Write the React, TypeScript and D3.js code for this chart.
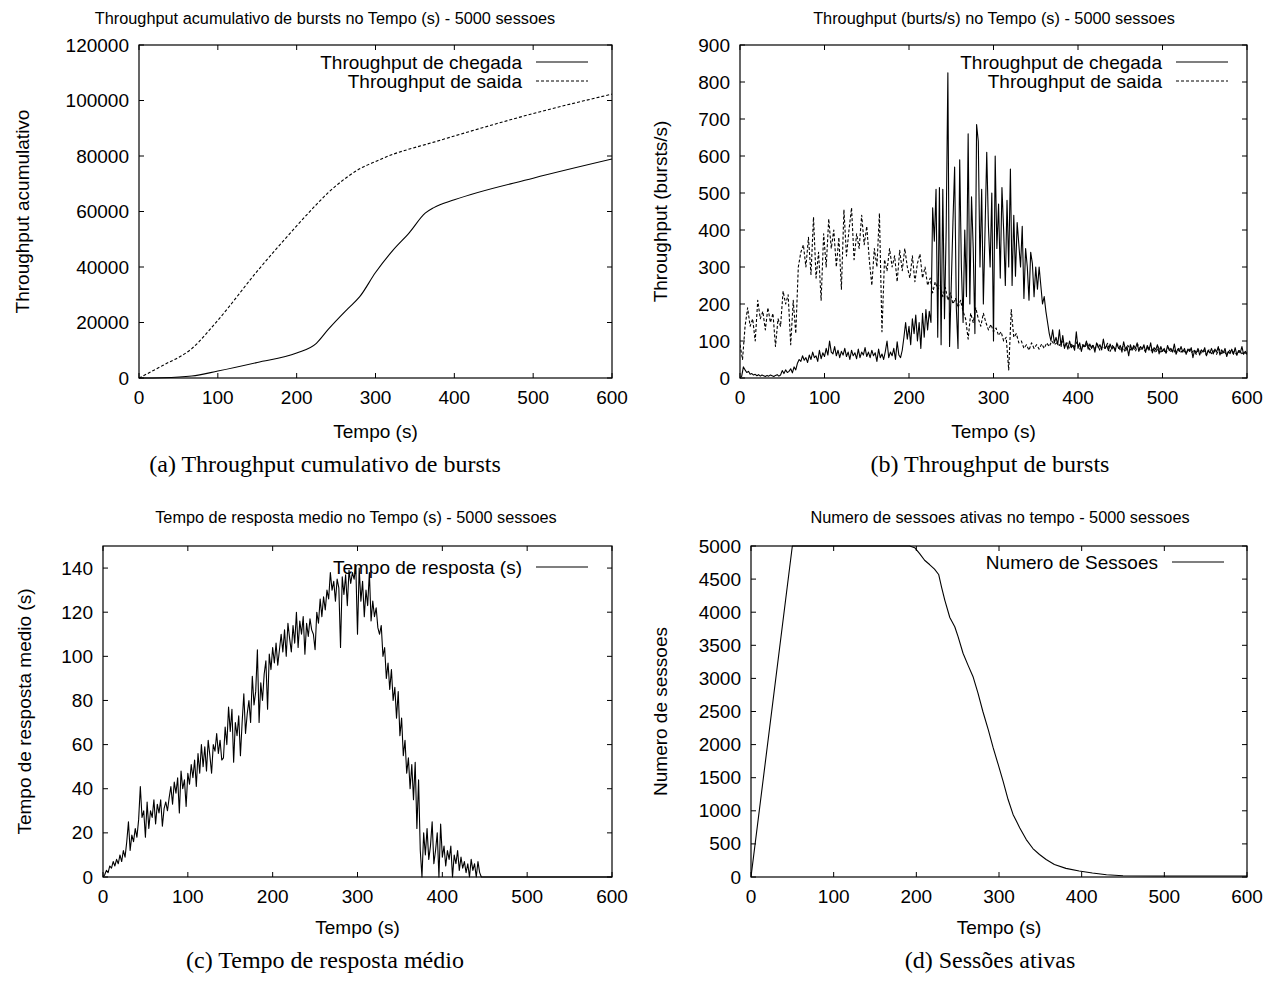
import React from "react";
import * as d3 from "d3";

// ---------- tick labels ----------
const X_TICKS = [0, 100, 200, 300, 400, 500, 600];
const CUM_Y_TICKS = [0, 20000, 40000, 60000, 80000, 100000, 120000];
const THR_Y_TICKS = [0, 100, 200, 300, 400, 500, 600, 700, 800, 900];
const RESP_Y_TICKS = [0, 20, 40, 60, 80, 100, 120, 140];
const SESS_Y_TICKS = [0, 500, 1000, 1500, 2000, 2500, 3000, 3500, 4000, 4500, 5000];

// ---------- (a) cumulative throughput ----------
const cumTimes = [0, 30, 67, 100, 150, 200, 225, 240, 265, 280, 300, 322, 343, 363, 374, 400, 500, 600];
const cumChegada = [0, 100, 700, 2500, 5600, 9000, 12500, 17500, 25000, 29300, 38000, 46000, 52400, 59400, 61400, 64200, 72000, 78900];
const cumSaida = [0, 4500, 10600, 20800, 38500, 54800, 62500, 66800, 72600, 75400, 78000, 80600, 82500, 84100, 85000, 87200, 95300, 102300];

// ---------- (b) throughput (bursts/s) ----------
const thrChegadaStep = 2;
const thrChegada = [
  0, 5, 30, 22, 15, 18, 10, 12, 8, 10, 6, 9, 5, 8, 6, 4, 7, 5, 8, 6,
  4, 7, 9, 5, 8, 20, 12, 22, 15, 18, 25, 14, 30, 22, 40, 50, 45, 60, 48, 55,
  42, 62, 50, 70, 55, 60, 45, 75, 52, 68, 58, 80, 62, 100, 70, 65, 85, 60, 75, 55,
  72, 62, 80, 58, 70, 50, 75, 60, 68, 52, 78, 55, 70, 62, 82, 58, 70, 55, 75, 60,
  68, 45, 78, 55, 65, 50, 72, 100, 55, 70, 60, 80, 50, 98, 62, 55, 75, 110, 150, 105,
  140, 90, 160, 120, 170, 100, 150, 80, 175, 110, 185, 130, 180, 150, 460, 370, 510, 110, 515, 90,
  510, 160, 400, 825, 85, 250, 420, 570, 190, 80, 590, 300, 150, 400, 220, 660, 200, 490, 350, 120,
  685, 640, 300, 510, 200, 400, 610, 410, 300, 500, 100, 600, 350, 470, 270, 515, 400, 250, 480, 300,
  565, 250, 440, 275, 420, 360, 300, 410, 215, 350, 300, 210, 340, 310, 220, 300, 240, 300, 250, 200,
  220, 180, 150, 120, 100, 130, 95, 110, 90, 130, 85, 115, 80, 95, 78, 100, 82, 88, 75, 125,
  80, 95, 72, 90, 85, 100, 78, 92, 80, 88, 70, 95, 82, 90, 76, 105, 80, 88, 74, 92,
  78, 85, 72, 95, 80, 88, 70, 98, 78, 85, 60, 90, 75, 88, 80, 95, 72, 85, 78, 90,
  70, 88, 75, 95, 68, 82, 76, 90, 65, 85, 72, 80, 68, 88, 74, 80, 70, 92, 66, 78,
  72, 85, 70, 80, 64, 78, 72, 82, 55, 75, 68, 80, 62, 76, 70, 82, 60, 75, 68, 80,
  65, 78, 70, 85, 62, 76, 68, 80, 58, 72, 66, 78, 64, 82, 62, 74, 68, 85, 64, 72,
  66,
];
const thrSaidaStep = 3;
const thrSaida = [
  90, 50, 140, 190, 140, 160, 100, 210, 160, 180, 130, 190, 150, 175, 85, 160, 140, 235, 200, 225,
  90, 210, 120, 300, 340, 360, 300, 380, 280, 435, 270, 340, 210, 390, 300, 430, 350, 400, 300, 380,
  240, 455, 330, 400, 460, 320, 390, 350, 440, 360, 410, 320, 250, 350, 300, 445, 125, 320, 290, 350,
  300, 330, 260, 345, 290, 350, 300, 270, 330, 260, 310, 335, 270, 300, 250, 270, 230, 260, 240, 250,
  220, 245, 210, 230, 200, 215, 190, 210, 180, 160, 105, 175, 150, 190, 160, 140, 175, 150, 130, 145,
  125, 135, 115, 125, 100, 110, 22, 185, 110, 120, 95, 100, 80, 90, 75, 95, 80, 90, 78, 92,
  80, 95, 85, 100, 90, 95, 88, 100, 85, 95, 80, 92, 85, 98, 78, 90, 82, 95, 76, 88,
  80, 92, 74, 86, 80, 94, 72, 88, 78, 90, 75, 85, 70, 88, 76, 84, 72, 90, 74, 82,
  70, 86, 72, 80, 68, 84, 70, 78, 66, 82, 72, 78, 64, 80, 70, 76, 66, 80, 68, 74,
  64, 78, 68, 75, 62, 76, 66, 74, 64, 78, 66, 72, 62, 76, 66, 72, 62, 74, 66, 70,
  64,
];

// ---------- (c) mean response time ----------
const respStep = 2;
const respTempo = [
  0, 1, 3, 2, 5, 4, 7, 5, 8, 6, 10, 7, 12, 9, 16, 25, 12, 19, 16, 22,
  18, 26, 41, 27, 30, 18, 34, 22, 30, 27, 35, 24, 33, 29, 35, 23, 31, 34, 30, 36,
  41, 33, 43, 38, 45, 29, 48, 40, 44, 32, 47, 42, 51, 45, 53, 41, 56, 47, 60, 50,
  59, 48, 62, 55, 47, 60, 57, 65, 56, 62, 53, 54, 68, 60, 77, 66, 76, 52, 70, 64,
  73, 55, 70, 83, 65, 74, 80, 70, 91, 78, 84, 103, 70, 88, 80, 92, 98, 76, 101, 94,
  104, 97, 106, 96, 103, 110, 102, 112, 100, 115, 108, 102, 114, 106, 120, 104, 116, 110, 118, 101,
  115, 109, 117, 112, 110, 103, 120, 115, 126, 118, 127, 121, 130, 126, 138, 130, 134, 125, 135, 131,
  104, 136, 128, 137, 123, 139, 133, 138, 135, 141, 110, 140, 125, 134, 118, 130, 123, 138, 116, 125,
  118, 122, 113, 110, 114, 100, 104, 90, 97, 85, 94, 80, 86, 72, 84, 64, 72, 55, 62, 47,
  54, 40, 51, 35, 52, 22, 44, 12, 0, 20, 10, 22, 8, 14, 25, 6, 12, 20, 0, 24,
  9, 14, 5, 12, 8, 14, 0, 10, 6, 12, 3, 9, 4, 7, 2, 6, 0, 8, 3, 6,
  0, 7, 2, 0,
];
const respTailTimes = [448, 600];
const respTailValues = [0, 0];

// ---------- (d) active sessions ----------
const sessTimes = [0, 50, 192, 198, 204, 210, 216, 222, 227, 230.5, 234.5, 240.5, 246.5, 250.5, 256.5, 262.5, 268.5, 274.5, 280.5, 287, 293, 299, 305, 311, 317, 325, 333, 341, 349, 357, 367, 381, 397, 413, 430, 450, 490, 600];
const sessValues = [0, 5000, 5000, 4975, 4885, 4785, 4720, 4650, 4570, 4380, 4180, 3920, 3780, 3630, 3380, 3200, 3030, 2780, 2500, 2225, 1950, 1700, 1445, 1170, 945, 745, 565, 430, 340, 265, 190, 130, 90, 60, 35, 20, 15, 15];

const SANS = "'Liberation Sans', Arial, Helvetica, sans-serif";
const SERIF = "'Liberation Serif', 'DejaVu Serif', serif";
const FS = 19;

type Pt = [number, number];
type Series = { pts: Pt[]; dash?: string; curve?: d3.CurveFactory };
type LegendItem = { label: string; dash?: string };

interface PanelProps {
  id: string;
  left: number; right: number; top: number; bottom: number;
  yDomain: [number, number];
  yTicks: number[];
  series: Series[];
  legend: LegendItem[];
  legendTextX: number; legendY: number;
  title: string; titleX: number; titleY: number;
  yLabel: string; yLabelX: number;
  xLabelY: number;
  caption: string; captionX: number; captionY: number;
}

function Panel(p: PanelProps) {
  const x = d3.scaleLinear().domain([0, 600]).range([p.left, p.right]);
  const y = d3.scaleLinear().domain(p.yDomain).range([p.bottom, p.top]);
  const tl = 5;
  const midX = (p.left + p.right) / 2;
  const midY = (p.top + p.bottom) / 2;
  return (
    <g>
      <defs>
        <clipPath id={"clip-" + p.id}>
          <rect x={p.left} y={p.top - 1} width={p.right - p.left} height={p.bottom - p.top + 2} />
        </clipPath>
      </defs>
      <text x={p.titleX} y={p.titleY} textAnchor="middle" dominantBaseline="central" fontFamily={SANS} fontSize={16.3}>{p.title}</text>
      {X_TICKS.map((t) => (
        <g key={"x" + t}>
          <line x1={x(t)} x2={x(t)} y1={p.bottom} y2={p.bottom - tl} stroke="#000" strokeWidth={1} />
          <line x1={x(t)} x2={x(t)} y1={p.top} y2={p.top + tl} stroke="#000" strokeWidth={1} />
          <text x={x(t)} y={p.bottom + 19} textAnchor="middle" dominantBaseline="central" fontFamily={SANS} fontSize={FS}>{t}</text>
        </g>
      ))}
      {p.yTicks.map((t) => (
        <g key={"y" + t}>
          <line x1={p.left} x2={p.left + tl} y1={y(t)} y2={y(t)} stroke="#000" strokeWidth={1} />
          <line x1={p.right} x2={p.right - tl} y1={y(t)} y2={y(t)} stroke="#000" strokeWidth={1} />
          <text x={p.left - 10} y={y(t)} textAnchor="end" dominantBaseline="central" fontFamily={SANS} fontSize={FS}>{t}</text>
        </g>
      ))}
      <g clipPath={`url(#clip-${p.id})`}>
        {p.series.map((s, i) => {
          const gen = d3.line<Pt>().x((d) => x(d[0])).y((d) => y(d[1])).curve(s.curve || d3.curveLinear);
          return <path key={i} d={gen(s.pts) || ""} fill="none" stroke="#000" strokeWidth={1.1} strokeDasharray={s.dash} strokeLinejoin="round" />;
        })}
      </g>
      <rect x={p.left} y={p.top} width={p.right - p.left} height={p.bottom - p.top} fill="none" stroke="#000" strokeWidth={1.2} />
      {p.legend.map((l, i) => (
        <g key={"l" + i}>
          <text x={p.legendTextX} y={p.legendY + i * 19} textAnchor="end" dominantBaseline="central" fontFamily={SANS} fontSize={FS}>{l.label}</text>
          <line x1={p.legendTextX + 14} x2={p.legendTextX + 66} y1={p.legendY + i * 19} y2={p.legendY + i * 19} stroke="#000" strokeWidth={1.1} strokeDasharray={l.dash} />
        </g>
      ))}
      <text transform={`translate(${p.yLabelX},${midY}) rotate(-90)`} textAnchor="middle" dominantBaseline="central" fontFamily={SANS} fontSize={FS}>{p.yLabel}</text>
      <text x={midX} y={p.xLabelY} textAnchor="middle" dominantBaseline="central" fontFamily={SANS} fontSize={FS}>Tempo (s)</text>
      <text x={p.captionX} y={p.captionY} textAnchor="middle" dominantBaseline="central" fontFamily={SERIF} fontSize={24}>{p.caption}</text>
    </g>
  );
}

export default function App() {
  const aChegada: Pt[] = cumTimes.map((t, i) => [t, cumChegada[i]]);
  const aSaida: Pt[] = cumTimes.map((t, i) => [t, cumSaida[i]]);
  const bChegada: Pt[] = thrChegada.map((v, i) => [i * thrChegadaStep, v]);
  const bSaida: Pt[] = thrSaida.map((v, i) => [i * thrSaidaStep, v]);
  const cResp: Pt[] = respTempo.map((v, i) => [i * respStep, v] as Pt).concat(respTailTimes.map((t, i) => [t, respTailValues[i]] as Pt));
  const dSess: Pt[] = sessTimes.map((t, i) => [t, sessValues[i]]);

  return (
    <svg width={1273} height={982} style={{ position: "absolute", left: 0, top: 0, background: "#fff" }}>
      <rect width={1273} height={982} fill="#fff" />
      <Panel id="a" left={139} right={612} top={45} bottom={378}
        yDomain={[0, 120000]} yTicks={CUM_Y_TICKS}
        series={[{ pts: aChegada, curve: d3.curveMonotoneX }, { pts: aSaida, dash: "3,2", curve: d3.curveMonotoneX }]}
        legend={[{ label: "Throughput de chegada" }, { label: "Throughput de saida", dash: "3,2" }]}
        legendTextX={522} legendY={62}
        title="Throughput acumulativo de bursts no Tempo (s) - 5000 sessoes" titleX={325} titleY={18}
        yLabel="Throughput acumulativo" yLabelX={22} xLabelY={431}
        caption="(a) Throughput cumulativo de bursts" captionX={325} captionY={464} />
      <Panel id="b" left={740} right={1247} top={45} bottom={378}
        yDomain={[0, 900]} yTicks={THR_Y_TICKS}
        series={[{ pts: bSaida, dash: "3,2" }, { pts: bChegada }]}
        legend={[{ label: "Throughput de chegada" }, { label: "Throughput de saida", dash: "3,2" }]}
        legendTextX={1162} legendY={62}
        title="Throughput (burts/s) no Tempo (s) - 5000 sessoes" titleX={994} titleY={18}
        yLabel="Throughput (bursts/s)" yLabelX={660} xLabelY={431}
        caption="(b) Throughput de bursts" captionX={990} captionY={464} />
      <Panel id="c" left={103} right={612} top={546} bottom={877}
        yDomain={[0, 150]} yTicks={RESP_Y_TICKS}
        series={[{ pts: cResp }]}
        legend={[{ label: "Tempo de resposta (s)" }]}
        legendTextX={522} legendY={567}
        title="Tempo de resposta medio no Tempo (s) - 5000 sessoes" titleX={356} titleY={517}
        yLabel="Tempo de resposta medio (s)" yLabelX={24} xLabelY={927}
        caption="(c) Tempo de resposta médio" captionX={325} captionY={960} />
      <Panel id="d" left={751} right={1247} top={546} bottom={877}
        yDomain={[0, 5000]} yTicks={SESS_Y_TICKS}
        series={[{ pts: dSess }]}
        legend={[{ label: "Numero de Sessoes" }]}
        legendTextX={1158} legendY={562}
        title="Numero de sessoes ativas no tempo - 5000 sessoes" titleX={1000} titleY={517}
        yLabel="Numero de sessoes" yLabelX={660} xLabelY={927}
        caption="(d) Sessões ativas" captionX={990} captionY={960} />
    </svg>
  );
}
